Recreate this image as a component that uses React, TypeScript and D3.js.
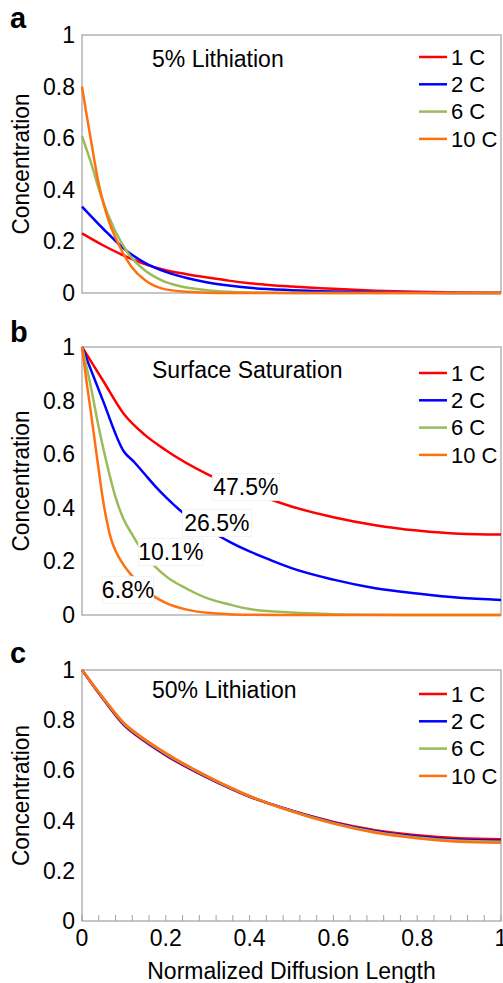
import React from "react";
import * as d3 from "d3";

// ---------- data ----------
const seriesNames = ["1 C", "2 C", "6 C", "10 C"];
const seriesColors = ["#ff0000", "#0000ff", "#9bbb59", "#ff7010"];

const xTicks = [0, 0.2, 0.4, 0.6, 0.8, 1];
const xTickLabels = ["0", "0.2", "0.4", "0.6", "0.8", "1"];
const xMinorTicks = d3.range(0, 26).map((i) => i * 0.04);
const yTicks = [0, 0.2, 0.4, 0.6, 0.8, 1];
const yTickLabels = ["0", "0.2", "0.4", "0.6", "0.8", "1"];

// Panel a: 5% Lithiation
const a1C: [number, number][] = [[0, 0.231], [0.05, 0.185], [0.1, 0.145], [0.15, 0.112], [0.2, 0.088], [0.25, 0.073], [0.3, 0.06], [0.35, 0.048], [0.4, 0.038], [0.5, 0.025], [0.6, 0.016], [0.7, 0.009], [0.8, 0.005], [0.9, 0.002], [1, 0.001]];
const a2C: [number, number][] = [[0, 0.335], [0.05, 0.25], [0.1, 0.172], [0.15, 0.117], [0.2, 0.082], [0.25, 0.058], [0.3, 0.041], [0.35, 0.029], [0.4, 0.02], [0.5, 0.011], [0.6, 0.006], [0.7, 0.003], [0.8, 0.001], [1, 0]];
const a6C: [number, number][] = [[0, 0.608], [0.022, 0.502], [0.046, 0.373], [0.078, 0.244], [0.11, 0.154], [0.149, 0.089], [0.189, 0.05], [0.237, 0.025], [0.293, 0.012], [0.35, 0.005], [0.4, 0.002], [0.5, 0], [1, 0]];
const a10C: [number, number][] = [[0, 0.8], [0.01, 0.7], [0.024, 0.567], [0.038, 0.438], [0.058, 0.309], [0.09, 0.18], [0.118, 0.102], [0.15, 0.05], [0.19, 0.018], [0.25, 0.005], [0.3, 0.001], [0.35, 0], [1, 0]];

// Panel b: Surface Saturation
const b1C: [number, number][] = [[0, 1], [0.05, 0.875], [0.1, 0.75], [0.15, 0.672], [0.2, 0.615], [0.3, 0.525], [0.4, 0.46], [0.5, 0.405], [0.6, 0.365], [0.7, 0.335], [0.8, 0.315], [0.9, 0.303], [1, 0.3]];
const b2C: [number, number][] = [[0, 1], [0.05, 0.8], [0.1, 0.61], [0.125, 0.57], [0.15, 0.525], [0.175, 0.48], [0.2, 0.44], [0.25, 0.37], [0.3, 0.32], [0.35, 0.275], [0.4, 0.237], [0.45, 0.205], [0.5, 0.175], [0.6, 0.132], [0.7, 0.1], [0.8, 0.08], [0.9, 0.064], [1, 0.056]];
const b6C: [number, number][] = [[0, 1], [0.02, 0.86], [0.04, 0.7], [0.06, 0.56], [0.08, 0.44], [0.1, 0.355], [0.12, 0.3], [0.15, 0.225], [0.2, 0.145], [0.25, 0.098], [0.3, 0.062], [0.35, 0.04], [0.4, 0.022], [0.5, 0.009], [0.6, 0.003], [0.7, 0.001], [0.8, 0], [1, 0]];
const b10C: [number, number][] = [[0, 1], [0.01, 0.88], [0.02, 0.77], [0.03, 0.655], [0.04, 0.54], [0.05, 0.43], [0.06, 0.345], [0.07, 0.28], [0.08, 0.24], [0.1, 0.185], [0.12, 0.145], [0.15, 0.095], [0.2, 0.045], [0.25, 0.02], [0.3, 0.008], [0.35, 0.003], [0.4, 0.001], [0.5, 0], [1, 0]];
const bLabels = ["47.5%", "26.5%", "10.1%", "6.8%"];
const bLabelX = [0.391, 0.322, 0.212, 0.11];
const bLabelY = [0.478, 0.343, 0.235, 0.093];

// Panel c: 50% Lithiation
const c1C: [number, number][] = [[0, 1], [0.05, 0.885], [0.1, 0.78], [0.15, 0.715], [0.2, 0.66], [0.3, 0.57], [0.4, 0.495], [0.5, 0.44], [0.6, 0.395], [0.7, 0.362], [0.8, 0.342], [0.9, 0.33], [1, 0.326]];
const c2C: [number, number][] = [[0, 1], [0.05, 0.887], [0.1, 0.783], [0.15, 0.718], [0.2, 0.663], [0.3, 0.572], [0.4, 0.496], [0.5, 0.439], [0.6, 0.392], [0.7, 0.358], [0.8, 0.337], [0.9, 0.324], [1, 0.32]];
const c6C: [number, number][] = [[0, 1], [0.05, 0.889], [0.1, 0.786], [0.15, 0.721], [0.2, 0.666], [0.3, 0.574], [0.4, 0.497], [0.5, 0.438], [0.6, 0.39], [0.7, 0.355], [0.8, 0.333], [0.9, 0.32], [1, 0.316]];
const c10C: [number, number][] = [[0, 1], [0.05, 0.89], [0.1, 0.789], [0.15, 0.724], [0.2, 0.669], [0.3, 0.576], [0.4, 0.498], [0.5, 0.437], [0.6, 0.388], [0.7, 0.352], [0.8, 0.33], [0.9, 0.316], [1, 0.312]];

// ---------- layout ----------
const W = 503;
const H = 983;
const LEFT = 82;
const RIGHT = 501;
const FONT = "'Liberation Sans', Arial, Helvetica, sans-serif";
const AXIS_COLOR = "#a0a0a0";
const FS = 23;

const panels = [
  { letter: "a", top: 35, bottom: 293, title: "5% Lithiation", titleY: 67, legendY: 57, letterY: 28, series: [a1C, a2C, a6C, a10C], xAxis: false, labels: false },
  { letter: "b", top: 347, bottom: 615, title: "Surface Saturation", titleY: 378, legendY: 373, letterY: 342, series: [b1C, b2C, b6C, b10C], xAxis: false, labels: true },
  { letter: "c", top: 670, bottom: 921, title: "50% Lithiation", titleY: 698, legendY: 694, letterY: 663, series: [c1C, c2C, c6C, c10C], xAxis: true, labels: false },
];
const labelBoxW = [67, 69, 65, 51];

function Panel({ p }: { p: (typeof panels)[number] }) {
  const x = d3.scaleLinear().domain([0, 1]).range([LEFT, RIGHT]);
  const y = d3.scaleLinear().domain([0, 1]).range([p.bottom, p.top]);
  const line = d3
    .line<[number, number]>()
    .x((d) => x(d[0]))
    .y((d) => y(d[1]))
    .curve(d3.curveMonotoneX);
  const midY = (p.top + p.bottom) / 2;
  return (
    <g>
      <text x={10} y={p.letterY} fontSize={29} fontWeight="bold" fontFamily={FONT} fill="#000">
        {p.letter}
      </text>
      <rect x={LEFT} y={p.top} width={RIGHT - LEFT} height={p.bottom - p.top} fill="#fff" stroke={AXIS_COLOR} strokeWidth={1.2} />
      {yTicks.map((t, i) => (
        <text key={"yt" + i} x={75} y={y(t)} dy="0.35em" textAnchor="end" fontSize={FS} fontFamily={FONT} fill="#000">
          {yTickLabels[i]}
        </text>
      ))}
      <text transform={`translate(29,${midY}) rotate(-90)`} textAnchor="middle" fontSize={FS} textLength={141} lengthAdjust="spacingAndGlyphs" fontFamily={FONT} fill="#000">
        Concentration
      </text>
      <text x={152} y={p.titleY} fontSize={FS} fontFamily={FONT} fill="#000">
        {p.title}
      </text>
      {p.series.map((s, i) => (
        <path key={"s" + i} d={line(s) || ""} fill="none" stroke={seriesColors[i]} strokeWidth={2.5} strokeLinejoin="round" />
      ))}
      {p.labels &&
        bLabels.map((lab, i) => {
          const cx = x(bLabelX[i]);
          const cy = y(bLabelY[i]);
          return (
            <g key={"lab" + i}>
              <rect x={cx - labelBoxW[i] / 2} y={cy - 13.5} width={labelBoxW[i]} height={27} fill="#fff" stroke="#f0f0f0" strokeWidth={0.8} />
              <text x={cx} y={cy} dy="0.35em" textAnchor="middle" fontSize={FS} fontFamily={FONT} fill="#000">
                {lab}
              </text>
            </g>
          );
        })}
      {seriesNames.map((n, i) => {
        const ly = p.legendY + i * 27.3;
        return (
          <g key={"lg" + i}>
            <line x1={419} x2={447} y1={ly} y2={ly} stroke={seriesColors[i]} strokeWidth={2.5} />
            <text x={451} y={ly} dy="0.35em" fontSize={22} fontFamily={FONT} fill="#000">
              {n}
            </text>
          </g>
        );
      })}
      {p.xAxis && (
        <g>
          {xMinorTicks.map((t, i) => (
            <line key={"mt" + i} x1={x(t)} x2={x(t)} y1={p.bottom} y2={p.bottom - 6} stroke={AXIS_COLOR} strokeWidth={1} />
          ))}
          {xTicks.map((t, i) => (
            <text key={"xt" + i} x={x(t)} y={938} dy="0.35em" textAnchor="middle" fontSize={FS} fontFamily={FONT} fill="#000">
              {xTickLabels[i]}
            </text>
          ))}
          <text x={(LEFT + RIGHT) / 2} y={979} textAnchor="middle" fontSize={FS} fontFamily={FONT} fill="#000">
            Normalized Diffusion Length
          </text>
        </g>
      )}
    </g>
  );
}

export default function App() {
  return (
    <svg
      width={W}
      height={H}
      viewBox={`0 0 ${W} ${H}`}
      style={{ position: "absolute", left: 0, top: 0, background: "#fff", display: "block" }}
    >
      <rect x={0} y={0} width={W} height={H} fill="#fff" />
      {panels.map((p) => (
        <Panel key={p.letter} p={p} />
      ))}
    </svg>
  );
}
